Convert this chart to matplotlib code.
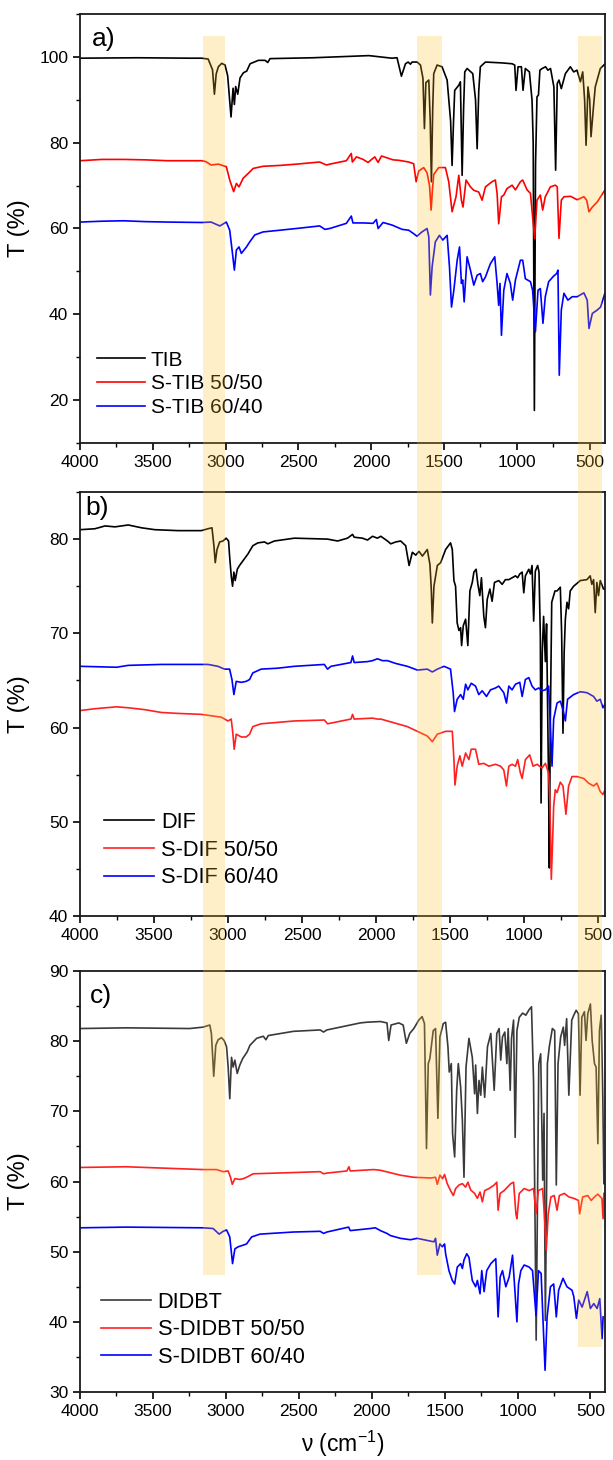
import matplotlib
matplotlib.use("Agg")
import matplotlib.pyplot as plt
import numpy as np
from matplotlib.patches import Rectangle
from matplotlib.ticker import MultipleLocator
from matplotlib.transforms import blended_transform_factory

plt.rcParams["font.family"] = ["Liberation Sans", "DejaVu Sans"]
plt.rcParams["mathtext.default"] = "regular"

# ---- panel a: TIB series (wavenumber cm-1, transmittance %) ----
tib = [
    (4000, 99.7), (3600, 99.8), (3250, 99.7), (3164, 99.7), (3120, 99.5), (3090, 97.0), (3077, 91.3),
    (3065, 96.0), (3050, 97.7), (3027, 98.5), (3004, 98.1), (2986, 95.6), (2963, 86.0), (2949, 92.7),
    (2940, 88.9), (2931, 93.1), (2917, 91.3), (2901, 95.1), (2878, 96.3), (2855, 96.7), (2832, 98.4),
    (2775, 99.2), (2729, 99.2), (2711, 98.7), (2695, 99.6), (2400, 99.8), (2016, 100.3), (1859, 99.7),
    (1823, 99.8), (1793, 95.5), (1765, 98.4), (1747, 98.8), (1731, 98.3), (1720, 98.8), (1685, 98.8),
    (1662, 98.1), (1645, 95.0), (1635, 83.3), (1625, 94.0), (1605, 94.6), (1595, 85.0), (1587, 70.9),
    (1578, 88.0), (1571, 96.1), (1548, 98.1), (1514, 97.7), (1479, 94.6), (1455, 85.0), (1445, 74.7),
    (1435, 85.0), (1427, 92.2), (1399, 93.4), (1388, 94.2), (1376, 72.4), (1366, 88.0), (1358, 96.5),
    (1342, 97.3), (1303, 96.1), (1284, 90.0), (1273, 78.6), (1262, 92.0), (1251, 97.7), (1216, 98.8),
    (1102, 98.6), (1033, 98.4), (1015, 98.1), (1006, 92.2), (992, 97.7), (969, 97.7), (958, 92.2),
    (942, 97.3), (914, 96.5), (896, 89.9), (888, 80.0), (880, 17.6), (872, 75.0), (862, 90.7),
    (852, 91.1), (842, 96.9), (826, 97.3), (803, 97.7), (787, 96.9), (769, 97.3), (746, 93.0),
    (734, 73.6), (723, 93.8), (711, 94.6), (695, 92.6), (667, 96.1), (633, 97.7), (610, 96.5),
    (587, 96.9), (564, 94.2), (548, 96.5), (535, 90.0), (525, 79.4), (512, 93.0), (500, 90.0),
    (491, 81.4), (475, 88.0), (462, 93.0), (427, 97.3), (397, 98.3),
]
s_tib_50 = [
    (4000, 75.8), (3850, 76.1), (3700, 76.1), (3550, 76.0), (3400, 75.8), (3164, 75.8), (3136, 75.6),
    (3100, 74.8), (3050, 75.0), (2995, 74.4), (2972, 71.3), (2945, 68.6), (2926, 70.5), (2908, 69.7),
    (2880, 71.7), (2846, 72.8), (2811, 74.0), (2743, 74.5), (2628, 74.7), (2514, 75.0), (2354, 75.5),
    (2308, 74.8), (2285, 75.0), (2171, 75.8), (2137, 77.5), (2130, 75.5), (2102, 76.7), (2056, 76.1),
    (2022, 75.4), (1976, 76.7), (1953, 75.4), (1930, 76.9), (1850, 76.0), (1811, 75.9), (1743, 75.5),
    (1709, 75.1), (1692, 70.9), (1674, 73.4), (1640, 74.2), (1617, 73.0), (1600, 70.0), (1589, 64.3),
    (1580, 69.0), (1571, 72.6), (1537, 74.2), (1491, 74.2), (1468, 70.9), (1445, 63.9), (1418, 67.4),
    (1399, 72.4), (1381, 66.6), (1370, 65.0), (1349, 71.3), (1319, 69.7), (1296, 68.9), (1262, 68.5),
    (1239, 66.6), (1216, 69.7), (1171, 70.9), (1148, 71.3), (1136, 68.2), (1125, 61.1), (1106, 67.4),
    (1090, 67.8), (1068, 69.3), (1033, 70.1), (1010, 69.0), (976, 70.9), (960, 71.3), (930, 69.0),
    (907, 68.2), (892, 62.7), (878, 57.7), (862, 66.6), (839, 67.8), (823, 64.3), (805, 67.4),
    (770, 69.7), (736, 70.1), (723, 69.7), (711, 57.7), (695, 66.6), (677, 67.4), (631, 67.5),
    (586, 66.7), (540, 67.4), (521, 66.6), (505, 63.9), (482, 65.0), (448, 66.2), (397, 68.9),
]
s_tib_60 = [
    (4000, 61.5), (3850, 61.7), (3700, 61.8), (3550, 61.6), (3400, 61.5), (3164, 61.4), (3100, 61.5),
    (3040, 60.6), (2995, 61.5), (2972, 59.6), (2953, 54.2), (2940, 50.3), (2926, 55.0), (2908, 55.7),
    (2892, 54.2), (2857, 55.7), (2834, 56.9), (2800, 58.5), (2743, 59.2), (2628, 59.6), (2514, 60.0),
    (2354, 60.6), (2319, 59.8), (2285, 60.0), (2171, 61.2), (2137, 62.9), (2126, 61.3), (2056, 61.3),
    (1988, 61.2), (1965, 62.1), (1953, 60.0), (1919, 61.4), (1857, 60.8), (1788, 59.8), (1743, 59.6),
    (1709, 58.8), (1686, 58.2), (1652, 59.2), (1617, 60.0), (1605, 58.1), (1594, 44.5), (1582, 51.1),
    (1560, 56.9), (1532, 58.4), (1509, 57.3), (1479, 58.4), (1463, 51.1), (1449, 41.7), (1433, 45.6),
    (1410, 52.6), (1394, 55.7), (1381, 47.2), (1372, 48.0), (1362, 42.9), (1342, 53.4), (1319, 50.3),
    (1296, 46.8), (1273, 49.1), (1251, 49.5), (1235, 47.6), (1216, 48.7), (1182, 51.8), (1152, 53.4),
    (1136, 47.2), (1125, 42.1), (1116, 47.2), (1106, 35.1), (1090, 45.6), (1068, 49.5), (1045, 47.2),
    (1029, 43.3), (1010, 48.0), (976, 52.6), (960, 52.6), (942, 48.3), (907, 47.6), (892, 45.6),
    (873, 35.9), (855, 45.6), (839, 46.0), (821, 37.9), (805, 44.1), (782, 47.6), (748, 48.9),
    (727, 49.5), (718, 50.3), (709, 25.8), (695, 41.0), (677, 44.9), (650, 43.3), (620, 44.1),
    (586, 44.1), (540, 45.0), (517, 43.3), (505, 36.7), (482, 40.2), (448, 41.0), (425, 41.7),
    (397, 44.8),
]

# ---- panel b: DIF series ----
dif = [
    (4000, 81.0), (3899, 81.1), (3831, 81.4), (3764, 81.3), (3674, 81.5), (3584, 81.2), (3494, 81.0),
    (3337, 80.9), (3180, 80.9), (3135, 81.1), (3108, 81.2), (3095, 79.3), (3086, 77.5), (3074, 78.9),
    (3056, 79.7), (3034, 79.8), (3012, 80.1), (2996, 79.8), (2989, 78.2), (2978, 76.1), (2969, 75.0),
    (2960, 76.5), (2951, 75.6), (2937, 76.8), (2922, 77.2), (2899, 77.7), (2866, 78.4), (2832, 79.3),
    (2798, 79.6), (2753, 79.7), (2731, 79.5), (2686, 79.8), (2551, 80.1), (2327, 80.0), (2259, 79.8),
    (2192, 80.1), (2158, 80.5), (2147, 80.2), (2091, 80.1), (2057, 79.9), (2023, 80.3), (1990, 80.1),
    (1967, 80.3), (1922, 79.8), (1900, 79.5), (1866, 79.7), (1833, 79.8), (1799, 79.3), (1776, 77.2),
    (1754, 78.6), (1731, 78.3), (1709, 78.7), (1686, 78.2), (1653, 78.9), (1635, 77.3), (1626, 74.7),
    (1619, 71.1), (1608, 75.0), (1585, 77.2), (1563, 77.5), (1529, 78.9), (1496, 79.6), (1484, 78.9),
    (1473, 75.6), (1462, 75.0), (1451, 71.1), (1439, 70.3), (1428, 70.6), (1421, 68.7), (1410, 70.8),
    (1394, 71.5), (1379, 68.7), (1365, 74.5), (1349, 75.4), (1338, 76.5), (1323, 76.8), (1311, 75.2),
    (1298, 74.0), (1287, 75.9), (1271, 71.8), (1260, 70.6), (1248, 73.6), (1230, 74.7), (1215, 73.4),
    (1199, 75.4), (1170, 75.6), (1147, 75.2), (1125, 75.7), (1102, 75.7), (1080, 75.9), (1057, 76.1),
    (1042, 75.9), (1028, 76.3), (1012, 76.5), (1001, 74.3), (990, 76.1), (967, 76.8), (956, 76.3),
    (945, 77.2), (934, 71.3), (923, 76.6), (907, 77.2), (898, 76.5), (889, 69.7), (884, 52.0),
    (876, 68.0), (867, 71.8), (855, 67.0), (847, 71.0), (834, 55.0), (828, 45.1), (822, 60.0),
    (812, 73.3), (790, 74.5), (776, 74.5), (754, 74.9), (745, 70.0), (736, 59.4), (728, 68.0),
    (720, 71.5), (709, 73.3), (698, 72.6), (687, 74.5), (664, 75.0), (619, 75.6), (574, 75.7),
    (552, 76.1), (541, 75.2), (529, 75.7), (518, 72.2), (507, 75.4), (496, 74.0), (484, 75.6),
    (462, 74.7), (451, 74.7),
]
s_dif_50 = [
    (4000, 61.8), (3899, 62.0), (3753, 62.2), (3674, 62.1), (3562, 61.9), (3450, 61.6), (3337, 61.5),
    (3180, 61.4), (3045, 61.1), (3000, 60.7), (2978, 60.9), (2967, 59.4), (2958, 57.7), (2944, 59.3),
    (2910, 59.0), (2877, 59.0), (2854, 59.3), (2832, 60.1), (2776, 60.4), (2551, 60.7), (2349, 60.8),
    (2327, 60.4), (2169, 60.9), (2158, 61.4), (2147, 60.9), (2023, 61.0), (1990, 60.9), (1967, 60.9),
    (1922, 60.7), (1877, 60.5), (1788, 60.1), (1720, 59.6), (1653, 59.1), (1619, 58.5), (1585, 59.3),
    (1529, 59.6), (1484, 59.6), (1473, 56.6), (1466, 53.9), (1451, 55.9), (1433, 57.0), (1417, 55.9),
    (1394, 57.3), (1372, 56.6), (1356, 57.7), (1327, 57.7), (1305, 56.1), (1271, 56.2), (1237, 55.9),
    (1192, 56.1), (1158, 55.9), (1136, 55.5), (1118, 53.8), (1102, 55.9), (1080, 56.1), (1057, 55.9),
    (1042, 56.6), (1024, 55.2), (1012, 54.6), (990, 56.6), (961, 57.1), (938, 55.9), (911, 56.1),
    (878, 55.7), (855, 56.2), (833, 55.2), (824, 52.0), (815, 43.9), (806, 48.0), (799, 51.6),
    (788, 53.4), (776, 53.1), (754, 54.2), (736, 53.8), (716, 50.8), (698, 53.8), (675, 54.8),
    (641, 54.8), (596, 54.6), (563, 54.1), (529, 53.8), (507, 54.1), (484, 53.2), (466, 52.9),
    (451, 53.4),
]
s_dif_60 = [
    (4000, 66.5), (3753, 66.4), (3674, 66.6), (3450, 66.7), (3135, 66.7), (3068, 66.5), (3023, 66.2),
    (2989, 66.2), (2973, 65.1), (2960, 63.5), (2944, 64.9), (2910, 64.8), (2877, 64.9), (2854, 65.1),
    (2832, 65.8), (2776, 66.2), (2664, 66.3), (2551, 66.5), (2349, 66.7), (2327, 66.2), (2304, 66.5),
    (2169, 66.9), (2158, 67.6), (2147, 66.9), (2057, 67.0), (2023, 67.1), (1990, 67.3), (1956, 67.1),
    (1922, 67.1), (1866, 66.8), (1788, 66.5), (1720, 66.1), (1653, 66.2), (1619, 65.9), (1585, 66.2),
    (1540, 66.5), (1496, 66.2), (1478, 63.7), (1469, 61.7), (1451, 63.0), (1428, 63.5), (1410, 63.0),
    (1394, 64.6), (1379, 64.0), (1356, 64.7), (1327, 64.4), (1305, 63.5), (1282, 63.9), (1253, 63.3),
    (1226, 64.0), (1192, 64.2), (1170, 64.4), (1136, 63.7), (1118, 62.6), (1102, 64.4), (1080, 64.0),
    (1057, 64.6), (1028, 64.8), (1012, 63.3), (990, 65.1), (967, 65.3), (945, 64.4), (923, 64.0),
    (900, 64.2), (878, 63.9), (855, 64.0), (833, 64.4), (821, 60.1), (810, 55.9), (799, 60.9),
    (776, 62.6), (754, 62.8), (736, 61.9), (720, 60.7), (705, 63.0), (664, 63.5), (619, 63.8),
    (574, 63.7), (529, 63.3), (507, 62.8), (484, 63.0), (466, 62.1), (451, 62.5),
]

# ---- panel c: DIDBT series ----
didbt = [
    (4000, 81.8), (3684, 81.9), (3248, 81.8), (3156, 82.0), (3110, 82.3), (3099, 81.1), (3083, 75.0),
    (3069, 79.4), (3053, 80.2), (3030, 80.5), (3012, 80.1), (2995, 79.2), (2984, 76.3), (2973, 71.8),
    (2961, 77.7), (2950, 76.3), (2938, 77.3), (2922, 75.4), (2904, 76.6), (2885, 77.5), (2869, 78.0),
    (2853, 78.5), (2835, 79.4), (2789, 80.4), (2743, 80.7), (2725, 80.2), (2709, 80.8), (2537, 81.4),
    (2353, 81.6), (2330, 81.3), (2307, 81.6), (2193, 82.1), (2078, 82.6), (2032, 82.7), (1940, 82.8),
    (1895, 82.6), (1883, 80.1), (1867, 82.3), (1814, 82.6), (1784, 82.3), (1762, 79.7), (1739, 81.1),
    (1711, 81.8), (1677, 83.0), (1654, 83.5), (1638, 82.5), (1624, 64.7), (1612, 76.8), (1601, 77.5),
    (1578, 81.5), (1562, 81.8), (1546, 69.0), (1532, 80.6), (1509, 82.5), (1493, 82.7), (1477, 79.2),
    (1468, 75.6), (1454, 76.8), (1445, 66.8), (1431, 63.5), (1417, 73.0), (1406, 76.8), (1390, 73.5),
    (1378, 68.7), (1367, 60.6), (1353, 76.3), (1333, 80.4), (1310, 77.7), (1294, 72.5), (1287, 76.6),
    (1275, 69.7), (1264, 74.4), (1252, 72.3), (1241, 76.3), (1225, 72.0), (1206, 79.2), (1183, 81.1),
    (1160, 73.0), (1142, 81.1), (1126, 81.8), (1115, 77.3), (1103, 80.6), (1087, 81.3), (1073, 76.8),
    (1064, 81.8), (1050, 73.0), (1041, 80.4), (1027, 83.0), (1016, 66.3), (1004, 81.5), (988, 83.4),
    (965, 84.0), (943, 83.7), (920, 84.5), (904, 84.9), (890, 74.4), (880, 55.0), (872, 37.4),
    (864, 55.0), (854, 76.8), (841, 78.2), (827, 60.2), (818, 69.7), (809, 40.2), (800, 60.0),
    (795, 76.8), (782, 79.2), (761, 81.8), (745, 81.5), (734, 59.5), (722, 76.8), (704, 80.6),
    (686, 82.0), (677, 79.4), (663, 83.2), (648, 72.3), (628, 83.0), (614, 83.7), (598, 84.4),
    (582, 83.9), (571, 72.3), (559, 83.4), (541, 84.2), (530, 80.1), (518, 83.9), (500, 85.3),
    (488, 80.1), (472, 76.8), (461, 76.3), (449, 65.4), (438, 81.5), (426, 83.7), (415, 72.0),
    (408, 59.7),
]
s_didbt_50 = [
    (4000, 62.0), (3684, 62.1), (3156, 61.7), (3064, 61.7), (3018, 61.4), (2984, 61.5), (2968, 60.6),
    (2956, 59.6), (2938, 60.4), (2904, 60.3), (2881, 60.4), (2858, 60.6), (2812, 61.1), (2651, 61.2),
    (2353, 61.4), (2330, 61.1), (2307, 61.2), (2170, 61.5), (2156, 62.1), (2147, 61.5), (1986, 61.7),
    (1940, 61.6), (1803, 60.9), (1711, 60.6), (1596, 60.5), (1562, 60.6), (1550, 59.6), (1532, 60.9),
    (1514, 60.4), (1500, 61.0), (1482, 59.7), (1459, 58.7), (1440, 58.0), (1424, 59.0), (1401, 59.5),
    (1378, 59.7), (1356, 59.2), (1340, 59.9), (1321, 58.8), (1294, 58.3), (1275, 57.6), (1257, 58.5),
    (1241, 57.1), (1225, 58.7), (1195, 59.0), (1160, 59.5), (1142, 59.9), (1133, 55.9), (1119, 58.3),
    (1092, 58.7), (1069, 59.2), (1046, 59.7), (1027, 59.9), (1011, 55.4), (1004, 54.7), (988, 58.3),
    (954, 59.0), (920, 58.7), (890, 59.0), (873, 55.4), (857, 58.7), (828, 59.0), (816, 55.4),
    (803, 50.2), (789, 55.4), (771, 57.8), (748, 58.0), (729, 55.9), (713, 58.0), (679, 58.3),
    (648, 57.8), (614, 57.6), (582, 57.3), (574, 55.4), (553, 57.8), (518, 58.0), (495, 57.3),
    (472, 57.8), (449, 58.2), (422, 57.6), (413, 54.7), (408, 58.3),
]
s_didbt_60 = [
    (4000, 53.4), (3684, 53.5), (3156, 53.4), (3087, 53.3), (3046, 52.5), (3018, 52.9), (2995, 53.1),
    (2973, 52.1), (2954, 48.3), (2938, 50.4), (2915, 50.7), (2885, 50.9), (2858, 51.1), (2823, 52.1),
    (2766, 52.5), (2537, 52.8), (2353, 52.9), (2330, 52.6), (2307, 52.8), (2158, 53.5), (2147, 53.0),
    (2009, 53.3), (1975, 53.4), (1940, 53.0), (1895, 52.6), (1872, 52.3), (1803, 51.9), (1734, 51.7),
    (1688, 51.9), (1619, 51.6), (1573, 51.4), (1562, 51.9), (1550, 49.5), (1532, 51.1), (1516, 50.7),
    (1500, 51.1), (1493, 49.7), (1470, 47.3), (1447, 45.9), (1431, 45.4), (1413, 47.8), (1390, 48.3),
    (1378, 47.6), (1367, 48.8), (1348, 49.7), (1333, 49.2), (1310, 45.9), (1287, 45.0), (1275, 45.9),
    (1257, 44.0), (1245, 47.3), (1229, 44.3), (1211, 47.3), (1183, 48.3), (1149, 49.0), (1133, 40.7),
    (1119, 46.4), (1103, 47.3), (1080, 45.0), (1057, 46.4), (1034, 49.5), (1018, 44.5), (1004, 40.0),
    (993, 45.4), (977, 47.3), (954, 48.1), (920, 47.8), (897, 47.3), (873, 40.9), (856, 47.3),
    (838, 46.9), (825, 40.2), (811, 33.1), (797, 40.7), (774, 45.0), (752, 45.4), (734, 40.7),
    (718, 44.5), (688, 46.2), (661, 45.0), (626, 44.5), (614, 43.6), (596, 40.5), (580, 43.1),
    (557, 42.1), (522, 44.3), (500, 41.9), (477, 42.6), (454, 41.9), (436, 43.3), (420, 37.6),
    (413, 40.7),
]

# highlighted wavenumber windows (cm-1, read on panel a scale)
highlight_bands = [(3153, 3006), (1684, 1514), (582, 413)]

panel_tags = ["a)", "b)", "c)"]
legend_a = ["TIB", "S-TIB 50/50", "S-TIB 60/40"]
legend_b = ["DIF", "S-DIF 50/50", "S-DIF 60/40"]
legend_c = ["DIDBT", "S-DIDBT 50/50", "S-DIDBT 60/40"]
x_ticks = [4000, 3500, 3000, 2500, 2000, 1500, 1000, 500]

fig = plt.figure(figsize=(6.13, 14.6), dpi=100)

L, W = 80 / 613, 525 / 613
ax_a = fig.add_axes([L, 1 - 443 / 1460, W, 429 / 1460])
ax_b = fig.add_axes([L, 1 - 916 / 1460, W, 424 / 1460])
ax_c = fig.add_axes([L, 1 - 1392 / 1460, W, 421 / 1460])

panels = [
    (ax_a, [tib, s_tib_50, s_tib_60], ["#000000", "#ff0000", "#0000ff"], legend_a,
     (395, 10, 110, 20, 10), (0.032, 0.215), 15.0, 0.22, (0.023, 0.942)),
    (ax_b, [dif, s_dif_50, s_dif_60], ["#000000", "#ff2020", "#0000ff"], legend_b,
     (452, 40, 85, 10, 5), (0.046, 0.245), 15.7, 0.3, (0.011, 0.963)),
    (ax_c, [didbt, s_didbt_50, s_didbt_60], ["#3a3a3a", "#ff2020", "#0000ff"], legend_c,
     (400, 30, 90, 10, 5), (0.040, 0.238), 15.7, 0.3, (0.019, 0.941)),
]

for tag, (ax, series, colors, labels, lims, leg_xy, leg_fs, leg_sp, tag_xy) in zip(panel_tags, panels):
    xr, y0, y1, ymaj, ymin = lims
    for data, col, lab in zip(series, colors, labels):
        arr = np.array(data, dtype=float)
        ax.plot(arr[:, 0], arr[:, 1], color=col, lw=1.2, label=lab)
    ax.set_xlim(4000, xr)
    ax.set_ylim(y0, y1)
    ax.set_xticks(x_ticks)
    ax.xaxis.set_minor_locator(MultipleLocator(250))
    ax.yaxis.set_major_locator(MultipleLocator(ymaj))
    ax.yaxis.set_minor_locator(MultipleLocator(ymin))
    ax.tick_params(which="major", direction="out", length=5, width=1.2, labelsize=12.5)
    ax.tick_params(which="minor", direction="out", length=3, width=1.0)
    for sp in ax.spines.values():
        sp.set_linewidth(1.3)
        sp.set_color("#1a1a1a")
    ax.patch.set_alpha(0)
    ax.set_ylabel("T (%)", fontsize=17)
    ax.yaxis.set_label_coords(-0.095, 0.5)
    ax.text(tag_xy[0], tag_xy[1], tag, transform=ax.transAxes, fontsize=19, va="center", ha="left")
    ax.legend(loc="upper left", bbox_to_anchor=leg_xy, frameon=False, fontsize=leg_fs,
              handlelength=2.3, handletextpad=0.3, labelspacing=leg_sp, borderpad=0, borderaxespad=0)

ax_c.set_xlabel("\u03bd (cm$^{-1}$)", fontsize=16.5, labelpad=7)

# yellow highlight bands crossing the three panels
tr = blended_transform_factory(ax_a.transData, fig.transFigure)
band_top = 1 - 36 / 1460
band_bottoms = [1 - 1275 / 1460, 1 - 1275 / 1460, 1 - 1347 / 1460]
for (xa, xb), yb in zip(highlight_bands, band_bottoms):
    rect = Rectangle((xb, yb), xa - xb, band_top - yb, transform=tr, facecolor="#ffc32b",
                     alpha=0.25, edgecolor="none", zorder=10)
    fig.add_artist(rect)

fig.savefig("out.png", dpi=100)
